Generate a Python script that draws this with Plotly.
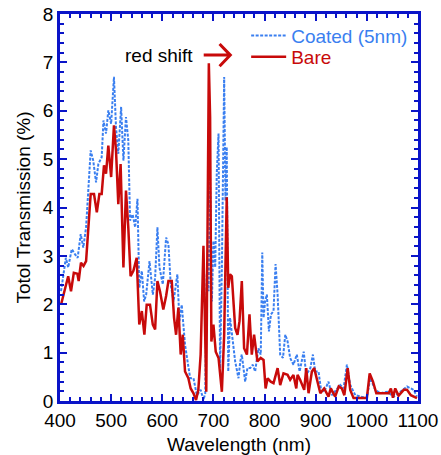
import plotly.graph_objects as go

# Bare (red, solid)
bare_nm = [402, 416, 421.5, 427, 434, 436.5, 441, 446, 451, 455.5, 460, 466.5, 472, 477, 481.5, 486, 490,
           494.5, 500, 505.5, 509.5, 514, 518.5, 524, 529, 533.5, 538, 543.5, 550, 555, 560, 565, 569.5,
           576, 581.5, 586, 590.5, 595.5, 602, 607.5, 612, 618.5, 623, 627, 631.5, 636, 640, 644.5, 651,
           655.5, 661, 666, 670.5, 675, 680.5, 686, 688.5, 691, 693.5, 696, 700, 704.5, 710, 716.5, 721,
           726, 729, 732.5, 736, 742.5, 747, 751, 755.5, 760, 765.5, 770.5, 775, 779.5, 786, 792.5, 798,
           802, 806, 812, 817.5, 825.5, 830.5, 837, 845, 850, 856.5, 862, 864.5, 869.5, 877.5, 881.5, 886,
           892.5, 897, 902.5, 909, 916.5, 925, 929.5, 938, 945, 951, 956, 962.5, 967.5, 974, 1000, 1005.5,
           1012, 1018.5, 1042.5, 1047, 1051, 1055.5, 1062, 1072, 1078.5, 1086, 1098]
bare_val = [1.99, 2.58, 2.27, 2.65, 2.63, 2.48, 2.86, 2.79, 2.89, 3.59, 4.28, 4.28, 3.90, 4.28, 4.28, 4.87, 4.70,
            5.28, 4.63, 5.70, 5.18, 4.07, 4.90, 2.76, 4.35, 3.59, 2.58, 2.69, 2.96, 1.58, 1.86, 1.37, 1.99,
            1.99, 1.58, 1.48, 2.48, 2.27, 1.89, 2.17, 2.48, 2.48, 1.72, 1.37, 1.93, 0.96, 1.37, 0.61, 0.47,
            0.26, 0.16, 0.02, 0.23, 0.96, 3.21, 0.19, 4.28, 6.98, 5.87, 1.23, 1.58, 1.02, 0.89, 0.19, 1.37,
            4.21, 2.34, 2.62, 2.58, 1.51, 1.37, 1.65, 2.48, 1.09, 0.96, 1.79, 0.96, 1.37, 0.82, 0.89, 0.85,
            0.26, 0.47, 0.40, 0.37, 0.68, 0.33, 0.57, 0.54, 0.44, 0.54, 0.26, 0.54, 0.44, 0.23, 0.68, 0.16,
            0.61, 0.68, 0.44, 0.16, 0.26, 0.09, 0.26, 0.09, 0.30, 0.26, 0.12, 0.68, 0.23, 0.06, 0.06, 0.57,
            0.40, 0.16, 0.16, 0.26, 0.07, 0.26, 0.11, 0.23, 0.23, 0.12, 0.06]

# Coated 5nm (blue, dotted)
coated_nm = [402, 406.5, 411.5, 416, 423, 429.5, 434.5, 440.5, 445.5, 451, 455.5, 460, 465, 470.5, 475, 481.5,
             485, 490, 494.5, 500, 505.5, 509.5, 514, 519.5, 524, 529, 533.5, 537, 542, 547, 551.5, 555,
             560, 564.5, 568.5, 575, 581.5, 586, 590.5, 594.5, 601, 607.5, 612, 616.5, 622, 629.5, 633.5,
             638, 644.5, 649, 654.5, 661, 667.5, 670.5, 675, 680.5, 684, 687, 690.5, 693.5, 697, 700, 703.5,
             706.5, 710, 713, 716.5, 721, 723.5, 726, 729, 732.5, 737.5, 742.5, 749, 752.5, 755.5, 762,
             766.5, 772, 777, 781.5, 788, 792.5, 795.5, 798, 801, 804.5, 808.5, 812.5, 817.5, 821.5, 825.5,
             830.5, 836, 840.5, 845, 850, 856.5, 863, 868.5, 876.5, 881.5, 889.5, 894.5, 899, 905.5, 910,
             916.5, 925, 931.5, 941.5, 948, 954.5, 961, 967.5, 977.5, 1000, 1006.5, 1016.5, 1026.5, 1039.5,
             1052.5, 1065.5, 1078.5, 1091.5, 1098]
coated_val = [2.27, 2.62, 2.96, 2.76, 3.14, 3.03, 2.96, 3.45, 3.17, 3.59, 4.42, 5.18, 4.97, 4.52, 4.90, 5.04,
              5.80, 5.53, 6.01, 5.73, 6.70, 5.66, 5.11, 6.08, 4.97, 5.87, 5.39, 3.73, 3.86, 3.59, 4.18, 2.34,
              2.69, 2.06, 2.20, 2.89, 2.20, 2.55, 3.59, 2.76, 2.41, 3.38, 3.24, 2.41, 2.06, 2.62, 1.65,
              1.99, 1.16, 0.82, 0.47, 0.47, 0.12, 0.16, 0.23, 0.02, 0.16, 2.62, 2.27, 4.63, 2.06, 3.31, 2.76,
              4.70, 5.53, 0.68, 2.76, 6.70, 4.14, 5.25, 0.61, 1.72, 1.23, 0.82, 0.47, 0.82, 0.96, 0.40,
              0.68, 0.68, 0.75, 0.61, 1.09, 0.96, 3.07, 1.72, 2.06, 2.20, 1.44, 1.79, 1.86, 2.83, 2.20,
              0.96, 0.89, 1.37, 1.23, 0.89, 0.75, 0.96, 0.61, 1.02, 0.54, 0.68, 0.96, 0.61, 0.61, 0.26,
              0.19, 0.40, 0.12, 0.26, 0.33, 0.26, 0.75, 0.33, 0.12, 0.06, 0.47, 0.23, 0.16, 0.19,
              0.09, 0.19, 0.30, 0.23, 0.09]

x_ticks = [400, 500, 600, 700, 800, 900, 1000, 1100]
y_ticks = [0, 1, 2, 3, 4, 5, 6, 7, 8]

BLUE_AX = "#0A14C8"
RED = "#C80A0A"
BLUE_L = "#3A7FF0"
FONT = "Liberation Sans, Arial, sans-serif"

fig = go.Figure()
fig.add_trace(go.Scatter(x=coated_nm, y=coated_val, mode="lines", legend="legend", showlegend=True,
                         name=f"<span style='color:{BLUE_L}'>Coated (5nm)</span>",
                         line=dict(color=BLUE_L, width=2, dash="3px,1.5px")))
fig.add_trace(go.Scatter(x=bare_nm, y=bare_val, mode="lines", legend="legend2", showlegend=True,
                         name=f"<span style='color:{RED}'>Bare</span>",
                         line=dict(color=RED, width=2.5)))

# red shift arrow
fig.add_shape(type="path", xref="x", yref="y",
              path="M 681,7.15 L 733,7.15 M 712,7.38 L 733,7.15 L 712,6.92",
              line=dict(color=RED, width=3))
fig.add_annotation(x=594, y=7.15, xref="x", yref="y", text="red shift", showarrow=False,
                   font=dict(family=FONT, size=19, color="black"))

axis_common = dict(showline=True, linecolor=BLUE_AX, linewidth=2.5, mirror="allticks",
                   ticks="inside", tickcolor=BLUE_AX, tickwidth=2, ticklen=7,
                   showgrid=False, zeroline=False, automargin=False,
                   tickfont=dict(family=FONT, size=19, color="black"))

fig.update_xaxes(range=[400, 1100], tickvals=x_ticks, ticktext=[str(v) for v in x_ticks],
                 ticklabelstandoff=0,
                 title=dict(text="Wavelength (nm)", font=dict(family=FONT, size=19, color="black"), standoff=9),
                 minor=dict(ticks="inside", dtick=20, ticklen=4, tickwidth=2, tickcolor=BLUE_AX),
                 **axis_common)
fig.update_yaxes(range=[0, 8], tickvals=y_ticks, ticktext=[str(v) for v in y_ticks],
                 title=dict(text="Totol Transmission (%)", font=dict(family=FONT, size=19, color="black"), standoff=8),
                 minor=dict(ticks="inside", dtick=0.2, ticklen=4, tickwidth=2, tickcolor=BLUE_AX),
                 **axis_common)

leg_common = dict(xanchor="left", yanchor="middle", bgcolor="rgba(0,0,0,0)",
                  font=dict(family=FONT, size=19), itemwidth=35, borderwidth=0)
fig.update_layout(width=441, height=455, margin=dict(l=60, r=23, t=14, b=54),
                  plot_bgcolor="white", paper_bgcolor="white", showlegend=True,
                  font=dict(family=FONT, size=19, color="black"),
                  legend=dict(x=0.52, y=0.944, **leg_common),
                  legend2=dict(x=0.52, y=0.889, **leg_common))

fig.write_html("out.html")
